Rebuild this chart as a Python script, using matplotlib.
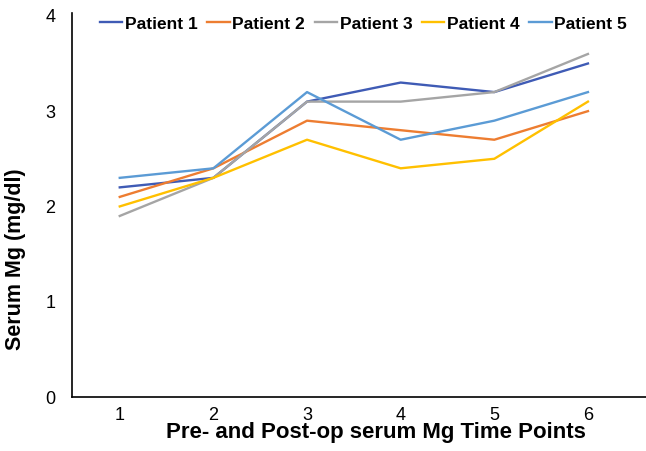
import matplotlib
matplotlib.use("Agg")
import matplotlib.pyplot as plt

plt.rcParams['font.family'] = ['Liberation Sans', 'DejaVu Sans']

time_points = [1, 2, 3, 4, 5, 6]
patient_1 = [2.2, 2.3, 3.1, 3.3, 3.2, 3.5]
patient_2 = [2.1, 2.4, 2.9, 2.8, 2.7, 3.0]
patient_3 = [1.9, 2.3, 3.1, 3.1, 3.2, 3.6]
patient_4 = [2.0, 2.3, 2.7, 2.4, 2.5, 3.1]
patient_5 = [2.3, 2.4, 3.2, 2.7, 2.9, 3.2]
labels = ['Patient 1', 'Patient 2', 'Patient 3', 'Patient 4', 'Patient 5']
colors = ['#3F5BB5', '#ED7D31', '#A5A5A5', '#FFC000', '#5B9BD5']

fig = plt.figure(figsize=(6.46, 4.51), dpi=100)
# axes box in pixels: left spine x=72, bottom y=397, top y=13
ax = fig.add_axes([72 / 646, (451 - 397) / 451, (646 - 72) / 646, (397 - 13) / 451])

series = [patient_1, patient_2, patient_3, patient_4, patient_5]
for vals, lab, col in zip(series, labels, colors):
    ax.plot(time_points, vals, color=col, lw=1.7, label=lab)

ax.set_xlim(0.49, 6.62)
ax.set_ylim(0, 4.03)
ax.set_xticks(time_points)
ax.set_yticks([0, 1, 2, 3, 4])
ax.tick_params(length=0, labelsize=13)
ax.tick_params(axis='x', pad=7)
ax.tick_params(axis='y', pad=12)
for s in ['top', 'right']:
    ax.spines[s].set_visible(False)
ax.spines['left'].set_linewidth(1.2)
ax.spines['bottom'].set_linewidth(1.2)

ax.set_xlabel('Pre- and Post-op serum Mg Time Points', fontsize=16, fontweight='bold')
ax.xaxis.set_label_coords(0.53, -0.066)
ax.set_ylabel('Serum Mg (mg/dl)', fontsize=15.5, fontweight='bold')
ax.yaxis.set_label_coords(-0.08, 0.36)

fig.legend(loc='center left', bbox_to_anchor=(84 / 646, 1 - 24 / 451), ncol=5,
           frameon=False, handlelength=1.3, handletextpad=0.15, columnspacing=0.55,
           prop={'size': 12.5, 'weight': 'bold'})

fig.savefig('out.png', dpi=100)
